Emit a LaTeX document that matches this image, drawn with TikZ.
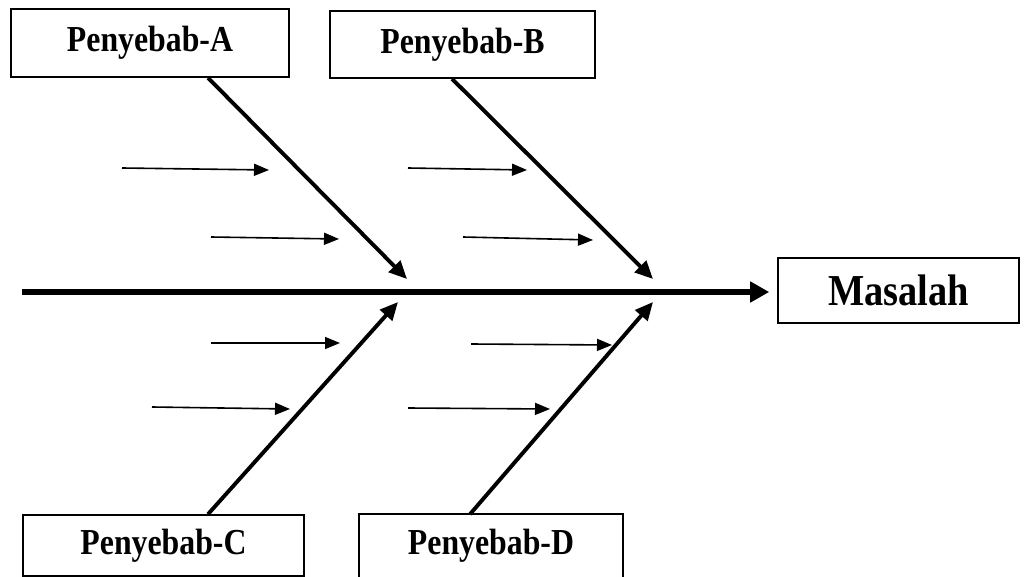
\documentclass[tikz,border=0pt]{standalone}
\usepackage{fontspec}
\usepackage{graphicx}
\setmainfont{Liberation Serif}
\usetikzlibrary{arrows.meta}
\newcommand{\tallbf}[1]{\scalebox{1}[1.15]{#1}}
\begin{document}
\begin{tikzpicture}[x=1pt,y=-1pt,
  frame/.style={line width=1.6pt},
  box/.style={draw, frame, inner sep=0pt, font=\bfseries\fontsize{31.8}{36}\selectfont},
  bone/.style={line width=3.9pt, -{Triangle[length=18pt,width=16pt]}},
  twig/.style={line width=1.6pt, -{Triangle[length=15pt,width=12pt]}},
  spine/.style={line width=5.5pt, -{Triangle[length=19pt,width=20pt]}}]
\clip (0,0) rectangle (1027,577);
\fill[white] (0,0) rectangle (1027,577);
% cause boxes
\node[box, minimum width=278pt, minimum height=68pt] (pa) at (150,43) {\tallbf{Penyebab-A}};
\node[box, minimum width=265pt, minimum height=67pt] (pb) at (462.5,44.5) {\tallbf{Penyebab-B}};
\node[box, minimum width=281pt, minimum height=61pt] (pc) at (163.5,545.5) {\tallbf{Penyebab-C}};
\node[box, draw=none, minimum width=262pt, minimum height=61pt] (pd) at (491,545.5) {\tallbf{Penyebab-D}};
\draw[frame] ([yshift=-30pt]pd.south west) -- (pd.north west) -- (pd.north east) -- ([yshift=-30pt]pd.south east);
% effect box
\node[box, minimum width=241pt, minimum height=65pt, font=\bfseries\fontsize{38.4}{44}\selectfont] (pm) at (898.5,290.5) {\tallbf{Masalah}};
% spine
\coordinate (tail) at (22,292);
\draw[spine, shorten >=8pt] (tail) -- (tail -| pm.west);
% main bones
\coordinate (ta) at (407,279);
\coordinate (tb) at (653,279);
\coordinate (tc) at (398,302);
\coordinate (td) at (653,302);
\draw[bone] ([xshift=58pt]pa.south) -- (ta);
\draw[bone] ([xshift=-10.5pt]pb.south) -- (tb);
\draw[bone] ([xshift=44.5pt]pc.north) -- (tc);
\draw[bone] ([xshift=-21pt]pd.north) -- (td);
% sub-cause arrows
\coordinate (a1s) at (122,168); \coordinate (a1e) at (269,170);
\coordinate (a2s) at (211,237); \coordinate (a2e) at (339,239);
\coordinate (b1s) at (408,168); \coordinate (b1e) at (527,170);
\coordinate (b2s) at (463,237); \coordinate (b2e) at (593,240);
\coordinate (c1s) at (211,343); \coordinate (c1e) at (340,343);
\coordinate (c2s) at (152,407); \coordinate (c2e) at (290,409);
\coordinate (d1s) at (471,344); \coordinate (d1e) at (612,345);
\coordinate (d2s) at (408,408); \coordinate (d2e) at (550,409);
\foreach \t in {a1,a2,b1,b2,c1,c2,d1,d2}
  \draw[twig] (\t s) -- (\t e);
\end{tikzpicture}
\end{document}
